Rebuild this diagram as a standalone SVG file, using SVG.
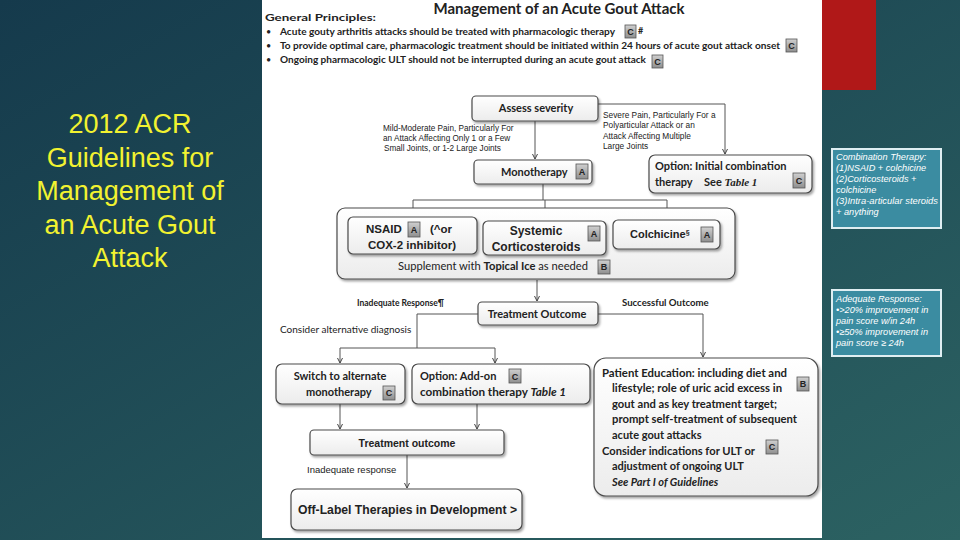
<svg xmlns="http://www.w3.org/2000/svg" width="960" height="540" viewBox="0 0 960 540">
<defs>
<linearGradient id="bg" x1="0" y1="0" x2="1" y2="1">
<stop offset="0" stop-color="#153a4c"/>
<stop offset="1" stop-color="#2c6262"/>
</linearGradient>
<linearGradient id="boxg" x1="0" y1="0" x2="0" y2="1">
<stop offset="0" stop-color="#ffffff"/>
<stop offset="1" stop-color="#ececec"/>
</linearGradient>
<linearGradient id="badgeg" x1="0" y1="0" x2="0" y2="1">
<stop offset="0" stop-color="#d0d0d0"/>
<stop offset="1" stop-color="#8e8e8e"/>
</linearGradient>
<filter id="sh" x="-10%" y="-10%" width="130%" height="140%">
<feDropShadow dx="1.5" dy="2" stdDeviation="1.2" flood-color="#000" flood-opacity="0.35"/>
</filter>
<marker id="ar" markerWidth="6" markerHeight="6" refX="5" refY="3" orient="auto" markerUnits="userSpaceOnUse">
<path d="M0,0.5 L5,3 L0,5.5" fill="none" stroke="#444" stroke-width="1"/>
</marker>
<style>
.box{fill:url(#boxg);stroke:#4a4a4a;stroke-width:1.2;filter:url(#sh)}
.badge{fill:url(#badgeg);stroke:#555;stroke-width:0.8}
.bl{font-family:"Liberation Sans",Arial,sans-serif;font-weight:bold;font-size:9px;fill:#222;text-anchor:middle}
.cal{font-family:Lato,"Open Sans",sans-serif;fill:#222}
.ar{font-family:"Liberation Sans",Arial,sans-serif;fill:#222}
.con{fill:none;stroke:#555;stroke-width:1}
.info{fill:#3b8ca1;stroke:#dfeef2;stroke-width:2}
.it{font-family:"Liberation Sans",Arial,sans-serif;font-style:italic;font-size:9.2px;fill:#ffffff}
.yel{font-family:"Liberation Sans",Arial,sans-serif;font-size:27px;fill:#f2f230;text-anchor:middle}
.pe{font-family:Lato,"Open Sans",sans-serif;fill:#222;font-size:11px;font-weight:bold}
</style>
</defs>
<rect x="0" y="0" width="960" height="540" fill="url(#bg)"/>
<rect x="822" y="0" width="54" height="90" fill="#b01818"/>
<rect x="262" y="0" width="560" height="538" fill="#ffffff"/>

<g id="slide-title">
<text class="yel" x="130" y="133">2012 ACR</text>
<text class="yel" x="130" y="167">Guidelines for</text>
<text class="yel" x="130" y="200">Management of</text>
<text class="yel" x="130" y="234">an Acute Gout</text>
<text class="yel" x="130" y="267">Attack</text>
</g>

<g id="principles">
<text class="cal" x="559" y="14" font-size="15" font-weight="bold" text-anchor="middle">Management of an Acute Gout Attack</text>
<text class="cal" x="265" y="21" font-size="9.5" font-weight="bold" textLength="111" lengthAdjust="spacingAndGlyphs">General Principles:</text>
<text class="cal" x="266" y="35" font-size="9">•</text>
<text class="cal" x="280" y="35" font-size="9.5" font-weight="bold" textLength="335" lengthAdjust="spacingAndGlyphs">Acute gouty arthritis attacks should be treated with pharmacologic therapy</text>
<rect class="badge" x="625" y="25" width="11" height="13"/><text class="bl" x="630.5" y="35">C</text>
<text class="cal" x="638" y="34" font-size="9" font-weight="bold">#</text>
<text class="cal" x="266" y="49" font-size="9">•</text>
<text class="cal" x="280" y="49" font-size="9.5" font-weight="bold" textLength="500" lengthAdjust="spacingAndGlyphs">To provide optimal care, pharmacologic treatment should be initiated within 24 hours of acute gout attack onset</text>
<rect class="badge" x="786" y="39" width="11" height="13"/><text class="bl" x="791.5" y="49">C</text>
<text class="cal" x="266" y="63" font-size="9">•</text>
<text class="cal" x="280" y="63" font-size="9.5" font-weight="bold" textLength="366" lengthAdjust="spacingAndGlyphs">Ongoing pharmacologic ULT should not be interrupted during an acute gout attack</text>
<rect class="badge" x="652" y="55" width="11" height="13"/><text class="bl" x="657.5" y="65">C</text>
</g>

<g id="connectors">
<path class="con" d="M535,121 V159" marker-end="url(#ar)"/>
<path class="con" d="M598,104 H725 V154" marker-end="url(#ar)"/>
<path class="con" d="M543,184 V200"/>
<path class="con" d="M413,200 H667"/>
<path class="con" d="M413,200 V216" marker-end="url(#ar)"/>
<path class="con" d="M545,200 V220" marker-end="url(#ar)"/>
<path class="con" d="M667,200 V219" marker-end="url(#ar)"/>
<path class="con" d="M537,280 V301" marker-end="url(#ar)"/>
<path class="con" d="M478,314 H417 V348"/>
<path class="con" d="M340,348 H495"/>
<path class="con" d="M340,348 V363" marker-end="url(#ar)"/>
<path class="con" d="M495,348 V363" marker-end="url(#ar)"/>
<path class="con" d="M598,314 H703 V357" marker-end="url(#ar)"/>
<path class="con" d="M340,404 V429" marker-end="url(#ar)"/>
<path class="con" d="M477,404 V429" marker-end="url(#ar)"/>
<path class="con" d="M407,455 V488" marker-end="url(#ar)"/>
</g>

<g id="edge-labels">
<text class="ar" font-size="8.2" x="383" y="131">Mild-Moderate Pain, Particularly For</text>
<text class="ar" font-size="8.2" x="383" y="141">an Attack Affecting Only 1 or a Few</text>
<text class="ar" font-size="8.2" x="384" y="151">Small Joints, or 1-2 Large Joints</text>
<text class="ar" font-size="8.3" x="603" y="118">Severe Pain, Particularly For a</text>
<text class="ar" font-size="8.3" x="603" y="128">Polyarticular Attack or an</text>
<text class="ar" font-size="8.3" x="603" y="139">Attack Affecting Multiple</text>
<text class="ar" font-size="8.3" x="603" y="149">Large Joints</text>
<text class="cal" font-size="8.5" font-weight="bold" x="357" y="306">Inadequate Response¶</text>
<text class="cal" font-size="9.6" font-weight="bold" x="622" y="306">Successful Outcome</text>
<text class="cal" font-size="10" x="280" y="333">Consider alternative diagnosis</text>
<text class="ar" font-size="9.5" x="307" y="473">Inadequate response</text>
</g>

<g id="assess">
<rect class="box" x="472" y="96" width="126" height="25" rx="4"/>
<text class="cal" x="536" y="112" font-size="11" font-weight="bold" text-anchor="middle">Assess severity</text>
</g>

<g id="monotherapy">
<rect class="box" x="474" y="160" width="118" height="24" rx="4"/>
<text class="cal" x="501" y="176" font-size="11" font-weight="bold">Monotherapy</text>
<rect class="badge" x="576" y="164" width="12" height="15"/><text class="bl" x="582" y="175">A</text>
</g>

<g id="initial-combination">
<rect class="box" x="649" y="155" width="163" height="38" rx="6"/>
<text class="cal" x="655" y="170" font-size="11" font-weight="bold">Option: Initial combination</text>
<text class="cal" x="655" y="186" font-size="11" font-weight="bold">therapy</text>
<text class="cal" x="704" y="186" font-size="11" font-weight="bold">See <tspan font-family="Liberation Serif,serif" font-style="italic">Table 1</tspan></text>
<rect class="badge" x="793" y="173" width="12" height="15"/><text class="bl" x="799" y="184">C</text>
</g>

<g id="drug-options">
<rect class="box" x="337" y="208" width="398" height="71" rx="8"/>
<g id="nsaid">
<rect class="box" x="348" y="217" width="129" height="37" rx="5"/>
<text class="ar" x="366" y="233" font-size="11.5" font-weight="bold">NSAID</text>
<rect class="badge" x="408" y="222" width="12" height="15"/><text class="bl" x="414" y="233">A</text>
<text class="ar" x="430" y="233" font-size="11.5" font-weight="bold">(^or</text>
<text class="ar" x="412" y="249" font-size="11.5" font-weight="bold" text-anchor="middle">COX-2 inhibitor)</text>
</g>
<g id="corticosteroids">
<rect class="box" x="483" y="221" width="123" height="34" rx="5"/>
<text class="ar" x="536" y="235" font-size="12" font-weight="bold" text-anchor="middle">Systemic</text>
<text class="ar" x="536" y="251" font-size="12" font-weight="bold" text-anchor="middle">Corticosteroids</text>
<rect class="badge" x="588" y="226" width="12" height="15"/><text class="bl" x="594" y="237">A</text>
</g>
<g id="colchicine">
<rect class="box" x="613" y="220" width="107" height="29" rx="5"/>
<text class="ar" x="630" y="238" font-size="11" font-weight="bold">Colchicine<tspan font-size="7" dy="-3">§</tspan></text>
<rect class="badge" x="701" y="227" width="12" height="15"/><text class="bl" x="707" y="238">A</text>
</g>
<text class="cal" x="398" y="270" font-size="11" textLength="190" lengthAdjust="spacingAndGlyphs">Supplement with <tspan font-weight="bold">Topical Ice</tspan> as needed</text>
<rect class="badge" x="598" y="260" width="12" height="14"/><text class="bl" x="604" y="270">B</text>
</g>

<g id="treatment-outcome">
<rect class="box" x="478" y="302" width="120" height="23" rx="4"/>
<text class="cal" x="537" y="318" font-size="11" font-weight="bold" text-anchor="middle">Treatment Outcome</text>
</g>

<g id="switch">
<rect class="box" x="276" y="364" width="129" height="40" rx="6"/>
<text class="cal" x="340" y="380" font-size="11" font-weight="bold" text-anchor="middle">Switch to alternate</text>
<text class="cal" x="306" y="396" font-size="11" font-weight="bold">monotherapy</text>
<rect class="badge" x="383" y="386" width="12" height="14"/><text class="bl" x="389" y="396">C</text>
</g>

<g id="add-on">
<rect class="box" x="412" y="364" width="178" height="40" rx="6"/>
<text class="cal" x="420" y="380" font-size="11" font-weight="bold">Option: Add-on</text>
<rect class="badge" x="509" y="369" width="12" height="14"/><text class="bl" x="515" y="380">C</text>
<text class="cal" x="420" y="396" font-size="11" font-weight="bold" textLength="146" lengthAdjust="spacingAndGlyphs">combination therapy <tspan font-style="italic">Table 1</tspan></text>
</g>

<g id="patient-education">
<rect class="box" x="594" y="358" width="224" height="138" rx="12"/>
<text class="pe" x="602" y="377" textLength="185" lengthAdjust="spacingAndGlyphs">Patient Education: including diet and</text>
<text class="pe" x="612" y="392" textLength="170" lengthAdjust="spacingAndGlyphs">lifestyle; role of uric acid excess in</text>
<text class="pe" x="612" y="408" textLength="165" lengthAdjust="spacingAndGlyphs">gout and as key treatment target;</text>
<text class="pe" x="612" y="423" textLength="185" lengthAdjust="spacingAndGlyphs">prompt self-treatment of subsequent</text>
<text class="pe" x="612" y="439">acute gout attacks</text>
<text class="pe" x="602" y="455" textLength="153" lengthAdjust="spacingAndGlyphs">Consider indications for ULT or</text>
<text class="pe" x="612" y="470">adjustment of ongoing ULT</text>
<text class="pe" x="612" y="486" font-style="italic">See Part I of Guidelines</text>
<rect class="badge" x="797" y="377" width="12" height="14"/><text class="bl" x="803" y="387">B</text>
<rect class="badge" x="766" y="440" width="12" height="14"/><text class="bl" x="772" y="450">C</text>
</g>

<g id="treatment-outcome-2">
<rect class="box" x="310" y="430" width="194" height="25" rx="4"/>
<text class="ar" x="407" y="447" font-size="10.5" font-weight="bold" text-anchor="middle">Treatment outcome</text>
</g>

<g id="off-label">
<rect class="box" x="291" y="489" width="231" height="41" rx="6"/>
<text class="ar" x="298" y="514" font-size="12.2" font-weight="bold">Off-Label Therapies in Development &gt;</text>
</g>

<g id="combination-note">
<rect class="info" x="832" y="149" width="109" height="79"/>
<text class="it" x="836" y="160">Combination Therapy:</text>
<text class="it" x="836" y="171">(1)NSAID + colchicine</text>
<text class="it" x="836" y="182">(2)Corticosteroids +</text>
<text class="it" x="836" y="193">colchicine</text>
<text class="it" x="836" y="204" textLength="102" lengthAdjust="spacingAndGlyphs">(3)Intra-articular steroids</text>
<text class="it" x="836" y="215">+ anything</text>
</g>

<g id="response-note">
<rect class="info" x="832" y="290" width="109" height="66"/>
<text class="it" x="836" y="302">Adequate Response:</text>
<text class="it" x="836" y="313">•&gt;20% improvement in</text>
<text class="it" x="836" y="324">pain score w/in 24h</text>
<text class="it" x="836" y="335">•≥50% improvement in</text>
<text class="it" x="836" y="346">pain score ≥ 24h</text>
</g>
</svg>
